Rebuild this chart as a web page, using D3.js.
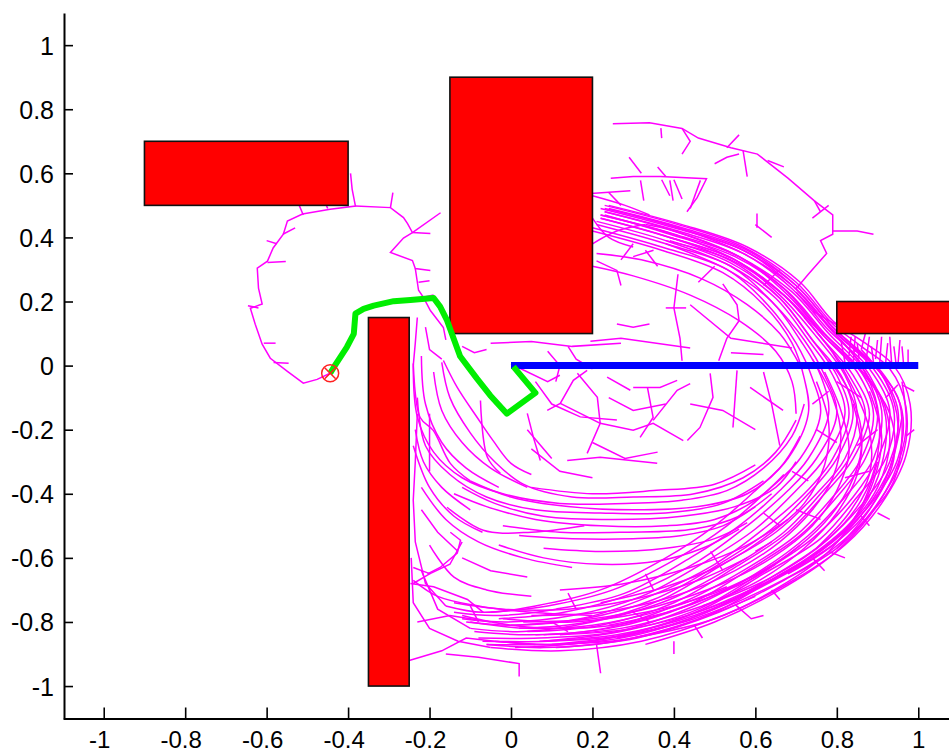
<!DOCTYPE html>
<html>
<head>
<meta charset="utf-8">
<script src="https://cdn.jsdelivr.net/npm/d3@7"></script>
<style>
  body { margin: 0; background: #fff; }
  svg { display: block; }
  text { font-family: "Liberation Sans", Arial, sans-serif; }
</style>
</head>
<body>
<svg id="chart" width="949" height="753"></svg>
<script>
// ---- axis ticks ----
const xTicks = [-1, -0.8, -0.6, -0.4, -0.2, 0, 0.2, 0.4, 0.6, 0.8, 1];
const yTicks = [-1, -0.8, -0.6, -0.4, -0.2, 0, 0.2, 0.4, 0.6, 0.8, 1];

// ---- obstacles [x0, y0, x1, y1] ----
const obstacles = [
  [-0.9, 0.5, -0.4, 0.7],
  [-0.15, 0.1, 0.2, 0.9],
  [-0.35, -1.0, -0.25, 0.15],
  [0.8, 0.1, 1.3, 0.2]
];

// ---- goal segment and found path ----
const goalSegment = [[0, 0], [1, 0]];
const solutionPath = [
  [-0.444, -0.024], [-0.435, -0.005], [-0.403, 0.058], [-0.386, 0.099], [-0.382, 0.162],
  [-0.362, 0.177], [-0.337, 0.187], [-0.288, 0.201], [-0.247, 0.205], [-0.190, 0.211],
  [-0.174, 0.184], [-0.157, 0.141], [-0.125, 0.029], [-0.084, -0.040], [-0.051, -0.093],
  [-0.010, -0.150], [0.060, -0.085], [0.006, -0.003]
];
const startPoint = [-0.444, -0.024];

// ---- explored tree: main spiral bundle ----
const bundleStrands = [
  "0.24,0.50 0.42,0.44 0.58,0.37 0.71,0.26 0.79,0.14 0.87,0.07 0.94,0.0 0.98,-0.12 0.97,-0.28 0.91,-0.43 0.82,-0.56 0.68,-0.68 0.52,-0.78 0.32,-0.86 0.12,-0.89 -0.05,-0.88",
  "0.23,0.50 0.41,0.44 0.57,0.37 0.70,0.26 0.79,0.13 0.86,0.06 0.93,-0.01 0.97,-0.13 0.96,-0.29 0.90,-0.43 0.81,-0.56 0.67,-0.67 0.51,-0.77 0.31,-0.85 0.11,-0.88",
  "0.24,0.49 0.42,0.43 0.58,0.36 0.70,0.25 0.79,0.12 0.85,0.05 0.91,-0.02 0.96,-0.14 0.95,-0.29 0.89,-0.42 0.79,-0.55 0.65,-0.66 0.50,-0.77 0.30,-0.85 0.10,-0.87 -0.06,-0.87",
  "0.30,0.47 0.41,0.43 0.57,0.36 0.70,0.25 0.79,0.12 0.90,-0.01 0.95,-0.14 0.93,-0.30 0.87,-0.42 0.77,-0.55 0.64,-0.66 0.48,-0.77 0.29,-0.84 0.10,-0.87",
  "0.23,0.49 0.41,0.43 0.57,0.35 0.70,0.24 0.79,0.11 0.89,-0.01 0.94,-0.14 0.92,-0.29 0.85,-0.41 0.76,-0.54 0.62,-0.65 0.47,-0.76 0.28,-0.84 0.09,-0.86 -0.07,-0.86",
  "0.23,0.48 0.41,0.42 0.57,0.35 0.69,0.24 0.78,0.11 0.88,-0.01 0.93,-0.14 0.90,-0.29 0.84,-0.41 0.74,-0.54 0.61,-0.65 0.46,-0.76 0.27,-0.83 0.08,-0.86",
  "0.23,0.48 0.40,0.42 0.56,0.34 0.69,0.23 0.78,0.10 0.87,-0.02 0.91,-0.14 0.89,-0.29 0.82,-0.41 0.73,-0.53 0.60,-0.65 0.45,-0.75 0.26,-0.83 0.07,-0.85 -0.08,-0.85",
  "0.33,0.44 0.40,0.42 0.56,0.34 0.68,0.23 0.77,0.10 0.86,-0.02 0.90,-0.15 0.87,-0.29 0.80,-0.41 0.71,-0.53 0.58,-0.64 0.43,-0.75 0.24,-0.82 0.06,-0.84",
  "0.22,0.47 0.40,0.41 0.56,0.34 0.68,0.22 0.77,0.09 0.85,-0.02 0.89,-0.15 0.86,-0.29 0.79,-0.41 0.70,-0.53 0.57,-0.64 0.42,-0.74 0.23,-0.82 0.05,-0.84 -0.09,-0.83",
  "0.22,0.47 0.40,0.41 0.55,0.33 0.67,0.22 0.76,0.09 0.84,-0.03 0.88,-0.15 0.84,-0.29 0.77,-0.40 0.68,-0.52 0.55,-0.63 0.40,-0.74 0.22,-0.81 0.04,-0.83",
  "0.39,0.40 0.55,0.33 0.67,0.22 0.76,0.09 0.83,-0.03 0.87,-0.15 0.83,-0.29 0.76,-0.40 0.67,-0.52 0.54,-0.63 0.39,-0.73 0.20,-0.80 0.03,-0.83 -0.10,-0.82",
  "0.22,0.46 0.39,0.40 0.55,0.33 0.66,0.22 0.75,0.09 0.82,-0.03 0.85,-0.15 0.82,-0.29 0.75,-0.40 0.65,-0.52 0.52,-0.62 0.37,-0.73 0.19,-0.80 0.02,-0.82",
  "0.22,0.46 0.39,0.40 0.55,0.32 0.66,0.21 0.74,0.08 0.81,-0.03 0.84,-0.15 0.80,-0.29 0.73,-0.40 0.64,-0.51 0.51,-0.62 0.35,-0.73 0.18,-0.79 0.01,-0.81 -0.11,-0.80",
  "0.39,0.39 0.54,0.32 0.66,0.21 0.74,0.08 0.80,-0.03 0.83,-0.15 0.79,-0.29 0.72,-0.40 0.62,-0.51 0.50,-0.62 0.34,-0.72 0.17,-0.79 0.00,-0.81",
  "0.21,0.45 0.38,0.39 0.54,0.31 0.65,0.21 0.73,0.08 0.79,-0.03 0.82,-0.15 0.77,-0.29 0.70,-0.39 0.60,-0.51 0.48,-0.61 0.32,-0.72 0.15,-0.78 -0.01,-0.80 -0.12,-0.79",
  "0.21,0.44 0.38,0.38 0.54,0.31 0.64,0.20 0.72,0.08 0.77,-0.03 0.80,-0.15 0.75,-0.29 0.68,-0.39 0.58,-0.50 0.46,-0.61 0.30,-0.71 0.13,-0.77 -0.03,-0.79",
  "0.38,0.38 0.53,0.30 0.64,0.20 0.71,0.08 0.76,-0.03 0.78,-0.15 0.73,-0.29 0.66,-0.39 0.56,-0.50 0.44,-0.60 0.28,-0.71 0.11,-0.76 -0.04,-0.78 -0.14,-0.77",
  "0.20,0.43 0.37,0.37 0.53,0.30 0.63,0.19 0.70,0.07 0.74,-0.04 0.76,-0.15 0.71,-0.29 0.63,-0.39 0.53,-0.50 0.41,-0.60 0.25,-0.70 0.09,-0.75 -0.05,-0.77",
  "0.20,0.42 0.37,0.36 0.52,0.29 0.62,0.19 0.69,0.07 0.72,-0.04 0.73,-0.15 0.68,-0.29 0.60,-0.39 0.50,-0.50 0.38,-0.60 0.22,-0.70 0.06,-0.75 -0.07,-0.77 -0.16,-0.75",
  "0.86,0.05 0.92,-0.05 0.95,-0.18 0.93,-0.32 0.88,-0.45 0.80,-0.57",
  "0.78,0.02 0.83,-0.08 0.86,-0.20 0.85,-0.34 0.80,-0.46 0.72,-0.57 0.61,-0.67 0.47,-0.75",
  "0.75,-0.05 0.78,-0.18 0.77,-0.31 0.72,-0.43 0.63,-0.53 0.52,-0.62 0.38,-0.69 0.22,-0.74",
  "0.90,-0.30 0.86,-0.44 0.78,-0.58 0.66,-0.69 0.50,-0.79 0.30,-0.85",
  "0.71,-0.56 0.60,-0.66 0.45,-0.74 0.30,-0.80 0.15,-0.82 0.00,-0.81 -0.12,-0.78",
  "0.65,-0.62 0.50,-0.71 0.33,-0.77 0.15,-0.80 -0.02,-0.79",
  "0.22,0.49 0.40,0.43 0.57,0.36 0.69,0.25 0.78,0.12 0.86,0.0 0.90,-0.13 0.90,-0.28 0.86,-0.42 0.78,-0.54 0.64,-0.66 0.47,-0.75 0.27,-0.82 0.08,-0.84",
  "0.38,0.39 0.54,0.33 0.67,0.22 0.77,0.09 0.86,-0.02 0.93,-0.15 0.94,-0.29 0.89,-0.43 0.80,-0.55 0.66,-0.66 0.50,-0.76 0.31,-0.84 0.12,-0.87 -0.04,-0.86",
  "0.70,0.23 0.80,0.10 0.89,0.0 0.95,-0.10 0.96,-0.22 0.94,-0.36 0.87,-0.48 0.76,-0.60 0.62,-0.70 0.45,-0.79 0.26,-0.85",
  "0.74,0.02 0.79,-0.10 0.81,-0.22 0.79,-0.35 0.74,-0.45 0.66,-0.55 0.55,-0.64 0.40,-0.72 0.22,-0.77 0.05,-0.78",
  "0.23,0.47 0.39,0.41 0.55,0.34 0.67,0.24 0.76,0.11 0.85,0.0 0.91,-0.10 0.93,-0.24 0.90,-0.38 0.83,-0.50 0.72,-0.61 0.57,-0.71 0.39,-0.80 0.20,-0.86 0.01,-0.88",
  "0.81,0.08 0.88,-0.03 0.92,-0.16 0.91,-0.31 0.86,-0.45 0.77,-0.57 0.64,-0.67 0.48,-0.76 0.30,-0.82 0.12,-0.84",
  "0.96,-0.05 0.97,-0.20 0.94,-0.34 0.88,-0.47 0.79,-0.59 0.66,-0.70 0.50,-0.80 0.33,-0.87",
  "0.77,-0.02 0.81,-0.14 0.83,-0.27 0.80,-0.39 0.74,-0.50 0.64,-0.60 0.52,-0.68 0.36,-0.75 0.20,-0.79 0.03,-0.80",
  "0.84,-0.12 0.86,-0.26 0.83,-0.38 0.77,-0.49 0.68,-0.59 0.56,-0.68 0.41,-0.76 0.24,-0.81",
  "0.88,-0.08 0.91,-0.22 0.89,-0.36 0.84,-0.48 0.74,-0.59 0.61,-0.69 0.45,-0.78 0.26,-0.84 0.07,-0.86",
  "0.72,0.15 0.79,0.04 0.84,-0.07 0.88,-0.20 0.88,-0.34 0.83,-0.46 0.75,-0.57",
  "0.53,-0.69 0.38,-0.76 0.20,-0.81 0.04,-0.82 -0.10,-0.80",
  "0.60,-0.72 0.44,-0.80 0.26,-0.86 0.08,-0.88 -0.06,-0.87",
  "0.58,-0.60 0.46,-0.67 0.30,-0.73 0.14,-0.76 -0.02,-0.76 -0.14,-0.74",
  "0.68,-0.48 0.58,-0.56 0.44,-0.63 0.28,-0.68 0.12,-0.70",
  "0.96,-0.16 0.93,-0.32 0.87,-0.45 0.79,-0.56 0.68,-0.65"
];

// ---- explored tree: inner loops ----
const innerStrands = [
  "-0.24,0.0 -0.23,-0.16 -0.19,-0.27 -0.12,-0.35 -0.02,-0.40 0.12,-0.43 0.28,-0.43 0.42,-0.42 0.53,-0.39 0.62,-0.32 0.69,-0.22 0.72,-0.12",
  "-0.17,0.01 -0.15,-0.10 -0.10,-0.21 -0.04,-0.30 0.03,-0.37 0.15,-0.41 0.30,-0.41 0.45,-0.40 0.57,-0.35 0.65,-0.27 0.70,-0.17",
  "-0.23,-0.10 -0.21,-0.25 -0.15,-0.34 -0.06,-0.41 0.06,-0.45 0.22,-0.46 0.38,-0.46 0.52,-0.43 0.62,-0.36",
  "-0.12,-0.38 -0.04,-0.43 0.08,-0.47 0.25,-0.48 0.42,-0.47 0.55,-0.44 0.65,-0.38 0.70,-0.30",
  "0.02,-0.53 0.15,-0.54 0.30,-0.54 0.42,-0.53 0.52,-0.50 0.60,-0.44",
  "-0.03,-0.56 0.08,-0.60 0.22,-0.62 0.36,-0.61 0.47,-0.57 0.56,-0.51",
  "-0.22,-0.38 -0.16,-0.48 -0.08,-0.55 0.03,-0.60 0.15,-0.63",
  "-0.24,-0.67 -0.18,-0.72 -0.08,-0.75 0.05,-0.77 0.20,-0.78",
  "0.20,0.31 0.30,0.28 0.44,0.22 0.56,0.14 0.65,0.045 0.69,-0.05 0.70,-0.15",
  "0.21,0.35 0.32,0.33 0.47,0.27 0.58,0.19 0.66,0.10 0.71,0.0",
  "-0.157,-0.442 -0.068,-0.514 0.05,-0.52 0.18,-0.50",
  "-0.24,0.007 -0.223,-0.162 -0.191,-0.202 -0.149,-0.305 -0.10,-0.36",
  "-0.166,0.016 -0.132,-0.068 -0.083,-0.162 -0.044,-0.234 0.0,-0.305 0.05,-0.34",
  "-0.075,-0.109 -0.058,-0.286 -0.026,-0.336",
  "-0.14,-0.40 -0.06,-0.44 0.06,-0.48 0.22,-0.50 0.38,-0.50 0.50,-0.48 0.60,-0.42 0.67,-0.34",
  "-0.10,-0.36 0.0,-0.41 0.14,-0.44 0.30,-0.45 0.46,-0.44 0.58,-0.40 0.66,-0.32 0.71,-0.22",
  "0.05,-0.38 0.20,-0.40 0.35,-0.39 0.50,-0.37 0.60,-0.31",
  "-0.02,-0.50 0.12,-0.52 0.28,-0.52 0.45,-0.51 0.56,-0.47 0.64,-0.40",
  "0.08,-0.57 0.22,-0.58 0.38,-0.57 0.50,-0.54 0.58,-0.49",
  "-0.22,0.03 -0.21,-0.12 -0.17,-0.24 -0.11,-0.32 -0.03,-0.38",
  "-0.19,-0.02 -0.17,-0.14 -0.12,-0.24 -0.05,-0.32 0.04,-0.38",
  "-0.235,-0.20 -0.215,-0.30 -0.17,-0.38 -0.10,-0.45",
  "-0.24,-0.25 -0.20,-0.38 -0.14,-0.47 -0.07,-0.52",
  "-0.20,-0.56 -0.14,-0.66 -0.06,-0.70 0.05,-0.72",
  "0.20,0.53 0.28,0.50 0.34,0.47",
  "0.20,0.38 0.26,0.42 0.33,0.44",
  "0.20,0.46 0.24,0.40 0.30,0.37"
];

// ---- explored tree: sparse branches (drawn as straight segments) ----
const branchLines = [
  "0.25,0.755 0.34,0.758 0.42,0.74 0.46,0.71 0.54,0.68 0.605,0.66 0.68,0.585 0.745,0.514 0.79,0.47 0.79,0.41 0.76,0.39 0.775,0.35 0.73,0.285 0.70,0.24",
  "0.79,0.42 0.85,0.42 0.89,0.41",
  "0.245,0.585 0.30,0.59 0.367,0.59 0.48,0.583 0.457,0.524 0.432,0.48",
  "-0.394,0.60 -0.39,0.55 -0.382,0.498 -0.444,0.488 -0.512,0.473 -0.549,0.451 -0.559,0.410 -0.584,0.367 -0.598,0.326 -0.623,0.304 -0.620,0.242 -0.611,0.192 -0.640,0.179 -0.628,0.129 -0.611,0.067 -0.591,0.023 -0.549,-0.018 -0.510,-0.055 -0.476,-0.043 -0.444,-0.024",
  "-0.382,0.498 -0.296,0.493 -0.264,0.462 -0.254,0.443 -0.242,0.415 -0.198,0.412",
  "-0.242,0.415 -0.173,0.477",
  "-0.296,0.493 -0.29,0.54",
  "-0.242,0.415 -0.264,0.398 -0.296,0.353 -0.242,0.328 -0.235,0.303 -0.198,0.297",
  "-0.235,0.303 -0.227,0.235 -0.215,0.213 -0.198,0.172 -0.166,0.119 -0.16,0.08",
  "-0.23,0.15 -0.235,0.07 -0.24,0.0",
  "-0.21,0.12 -0.20,0.05 -0.17,0.02",
  "0.121,-0.118 0.219,-0.180 0.187,-0.274",
  "0.089,-0.140 0.121,-0.118 0.153,-0.046 0.187,-0.015",
  "0.04,-0.149 0.055,-0.224 0.072,-0.296",
  "0.219,-0.180 0.300,-0.202 0.349,-0.180 0.423,-0.234",
  "0.349,-0.171 0.408,-0.077 0.440,-0.056",
  "0.300,-0.068 0.366,-0.068 0.408,-0.046",
  "0.236,-0.036 0.293,-0.077",
  "0.335,-0.068 0.349,-0.162 0.317,-0.224",
  "0.489,-0.024 0.496,-0.099 0.464,-0.193 0.433,-0.234",
  "0.555,-0.015 0.545,-0.193",
  "0.587,-0.068 0.668,-0.140",
  "0.138,-0.296 0.219,-0.286 0.359,-0.305",
  "0.163,-0.024 0.212,-0.099 0.219,-0.180",
  "0.0,0.005 0.09,-0.05 0.12,-0.03",
  "0.04,-0.20 0.10,-0.29",
  "0.20,-0.24 0.28,-0.29 0.36,-0.27",
  "0.06,-0.05 0.10,-0.12 0.17,-0.16 0.26,-0.17",
  "0.24,-0.10 0.30,-0.14 0.38,-0.12",
  "0.44,-0.12 0.52,-0.14 0.60,-0.20",
  "0.62,-0.02 0.64,-0.12 0.66,-0.25",
  "0.05,-0.26 0.12,-0.33 0.20,-0.35",
  "0.41,0.285 0.40,0.18 0.415,0.085 0.42,0.015",
  "0.38,0.18 0.43,0.18",
  "0.195,0.076 0.27,0.085 0.44,0.055",
  "0.26,0.13 0.30,0.12 0.34,0.13",
  "0.52,0.255 0.555,0.19 0.56,0.14 0.53,0.085 0.51,0.015",
  "0.44,0.19 0.54,0.085 0.69,0.055",
  "0.54,0.04 0.62,0.035",
  "0.21,0.327 0.26,0.297 0.27,0.25",
  "0.196,0.537 0.293,0.546",
  "-0.05,0.07 0.05,0.075 0.15,0.06 0.27,0.07",
  "0.09,0.045 0.12,0.0 0.11,-0.05",
  "0.14,0.06 0.16,0.02 0.20,-0.01",
  "-0.12,0.06 -0.09,0.04 -0.06,0.05",
  "-0.25,-0.92 -0.17,-0.89 -0.11,-0.85 -0.04,-0.86 0.06,-0.87",
  "-0.16,-0.90 -0.08,-0.91 0.02,-0.93 0.02,-0.97",
  "-0.24,-0.68 -0.20,-0.65 -0.15,-0.62 -0.12,-0.55",
  "-0.23,-0.80 -0.15,-0.78 -0.05,-0.80",
  "-0.149,-0.52 -0.124,-0.545 -0.132,-0.585 -0.174,-0.63 -0.205,-0.65",
  "-0.247,-0.68 -0.19,-0.69 -0.107,-0.73 -0.068,-0.77",
  "-0.24,-0.63 -0.198,-0.65",
  "-0.22,-0.45 -0.18,-0.52 -0.13,-0.58",
  "-0.12,-0.60 -0.05,-0.64 0.04,-0.66",
  "-0.05,-0.88 -0.13,-0.86 -0.20,-0.82 -0.24,-0.74 -0.245,-0.60",
  "-0.16,-0.75 -0.21,-0.68 -0.235,-0.55 -0.24,-0.42 -0.235,-0.30 -0.23,-0.15",
  "-0.10,-0.82 -0.18,-0.76 -0.22,-0.64",
  "-0.20,-0.15 -0.20,-0.33"
];

// ---- explored tree: short twigs ----
const twigs = [
  "0.318,0.578 0.326,0.515", "0.37,0.58 0.39,0.53", "0.39,0.578 0.398,0.515", "0.465,0.578 0.44,0.49",
  "0.604,0.475 0.604,0.43", "0.60,0.44 0.64,0.40", "0.24,0.54 0.27,0.50", "0.30,0.38 0.27,0.33",
  "0.33,0.36 0.36,0.31", "0.50,0.31 0.46,0.26", "0.62,0.25 0.66,0.30", "0.74,0.17 0.81,0.12",
  "0.35,0.36 0.30,0.34",
  "0.82,0.01 0.81,0.08", "0.84,0.0 0.845,0.09", "0.855,0.02 0.85,0.07", "0.87,0.0 0.88,0.09",
  "0.89,0.01 0.885,0.06", "0.905,0.0 0.91,0.09", "0.92,0.01 0.925,0.07", "0.935,0.0 0.93,0.09",
  "0.95,0.0 0.955,0.08", "0.965,-0.01 0.96,0.06", "0.975,0.0 0.975,0.05", "0.86,0.05 0.87,0.10",
  "0.83,0.03 0.835,0.09", "0.895,0.02 0.90,0.08", "0.945,0.01 0.94,0.06",
  "0.99,-0.08 0.96,-0.06", "0.97,-0.22 0.99,-0.20", "0.90,-0.46 0.93,-0.48", "0.88,-0.50 0.86,-0.47",
  "0.74,-0.60 0.77,-0.64", "0.55,-0.745 0.59,-0.79 0.62,-0.78", "0.40,-0.86 0.40,-0.90",
  "0.21,-0.87 0.22,-0.96", "0.45,-0.81 0.47,-0.85", "0.64,-0.70 0.66,-0.73", "0.78,-0.58 0.82,-0.60",
  "0.80,-0.05 0.86,-0.10", "0.85,-0.25 0.90,-0.20", "0.75,-0.20 0.80,-0.24", "0.82,-0.35 0.88,-0.33",
  "0.70,-0.45 0.76,-0.48", "0.60,-0.58 0.64,-0.55", "0.30,-0.77 0.34,-0.80", "0.10,-0.80 0.14,-0.83",
  "0.92,-0.10 0.95,-0.06", "0.88,0.02 0.84,0.05",
  "0.78,-0.08 0.74,-0.12", "0.73,-0.36 0.69,-0.33", "0.52,-0.64 0.49,-0.58", "0.35,-0.70 0.33,-0.65",
  "0.16,-0.76 0.14,-0.71", "-0.08,-0.80 -0.10,-0.75", "0.62,-0.46 0.66,-0.50",
  "0.368,0.741 0.37,0.71", "0.42,0.74 0.44,0.70 0.42,0.66", "0.53,0.68 0.56,0.72", "0.57,0.67 0.58,0.59",
  "0.63,0.64 0.67,0.62", "0.50,0.63 0.53,0.65 0.56,0.66", "0.745,0.514 0.76,0.48", "0.78,0.50 0.74,0.46",
  "0.29,0.65 0.32,0.60", "0.36,0.62 0.38,0.59", "0.40,0.58 0.42,0.52",
  "-0.598,0.322 -0.553,0.325", "-0.646,0.187 -0.62,0.18", "-0.607,0.07 -0.578,0.07",
  "-0.583,0.01 -0.546,0.007", "-0.56,0.41 -0.53,0.43", "-0.575,0.38 -0.60,0.39",
  "-0.51,0.47 -0.52,0.50", "-0.45,0.49 -0.46,0.52", "-0.215,0.213 -0.19,0.22", "-0.227,0.26 -0.20,0.265"
];

// ---- drawing ----
const svg = d3.select("#chart");
const x = d3.scaleLinear().domain([-1.1, 1.1]).range([63, 959]);
const y = d3.scaleLinear().domain([-1.1, 1.1]).range([718.1, 13.1]);

const parse = s => s.trim().split(/\s+/).map(p => p.split(",").map(Number));
const smooth = d3.line().x(d => x(d[0])).y(d => y(d[1])).curve(d3.curveCatmullRom.alpha(0.5));
const straight = d3.line().x(d => x(d[0])).y(d => y(d[1]));

const plot = svg.append("g");
const tree = plot.append("g")
  .attr("fill", "none")
  .attr("stroke", "#ff00ff")
  .attr("stroke-width", 1.5);

tree.selectAll("path.bundle").data(bundleStrands.map(parse)).join("path")
  .attr("class", "bundle").attr("d", smooth);
tree.selectAll("path.inner").data(innerStrands.map(parse)).join("path")
  .attr("class", "inner").attr("d", smooth);
tree.selectAll("path.branch").data(branchLines.map(parse)).join("path")
  .attr("class", "branch").attr("d", straight);
tree.selectAll("path.twig").data(twigs.map(parse)).join("path")
  .attr("class", "twig").attr("d", straight);

// obstacles
plot.selectAll("rect.obs").data(obstacles).join("rect")
  .attr("class", "obs")
  .attr("x", d => x(d[0]))
  .attr("y", d => y(d[3]))
  .attr("width", d => x(d[2]) - x(d[0]))
  .attr("height", d => y(d[1]) - y(d[3]))
  .attr("fill", "#ff0000")
  .attr("stroke", "#111")
  .attr("stroke-width", 1.6);

// goal segment
plot.append("path")
  .attr("d", straight(goalSegment))
  .attr("fill", "none")
  .attr("stroke", "#0000ff")
  .attr("stroke-width", 7);

// solution path
plot.append("path")
  .attr("d", straight(solutionPath))
  .attr("fill", "none")
  .attr("stroke", "#00ee00")
  .attr("stroke-width", 6)
  .attr("stroke-linejoin", "round");

// start marker
const sm = plot.append("g")
  .attr("transform", `translate(${x(startPoint[0])},${y(startPoint[1])})`)
  .attr("fill", "none").attr("stroke", "#ff2020").attr("stroke-width", 1.5);
sm.append("circle").attr("r", 8.5);
sm.append("path").attr("d", "M-5.5,-5.5L5.5,5.5M-5.5,5.5L5.5,-5.5");

// axes
const fmt = v => String(+v.toFixed(1));
const yAxis = d3.axisLeft(y).tickValues(yTicks).tickFormat(fmt)
  .tickSizeInner(-9).tickSizeOuter(0).tickPadding(10);
const xAxis = d3.axisBottom(x).tickValues(xTicks).tickFormat(fmt)
  .tickSizeInner(-11).tickSizeOuter(0).tickPadding(12);

const gy = svg.append("g").attr("transform", "translate(64,0)").call(yAxis);
const gx = svg.append("g").attr("transform", "translate(0,718.5)").call(xAxis);

[gx, gy].forEach(g => {
  g.select(".domain").attr("stroke", "#000").attr("stroke-width", 2);
  g.selectAll(".tick line").attr("stroke", "#000").attr("stroke-width", 1.6);
  g.selectAll(".tick text").attr("fill", "#000")
    .attr("font-family", "'Liberation Sans', Arial, sans-serif");
});
gy.selectAll(".tick text").attr("font-size", 25).attr("dy", "0.36em");
gx.selectAll(".tick text").attr("font-size", 24).attr("dy", "0.71em")
  .attr("dx", d => d < 0 ? -4.5 : 0);
</script>
</body>
</html>
